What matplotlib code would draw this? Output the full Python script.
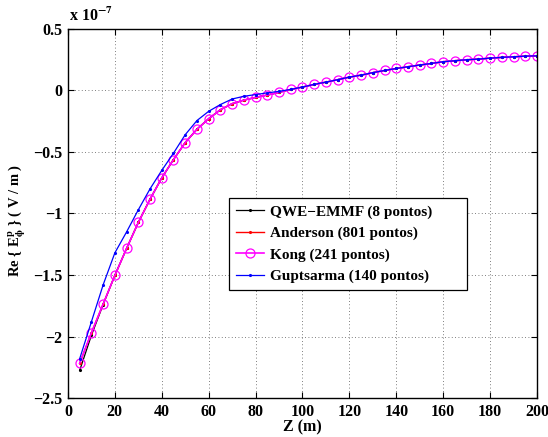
import matplotlib
matplotlib.use('Agg')
import matplotlib.pyplot as plt

plt.rcParams['font.family'] = ['Liberation Serif', 'DejaVu Serif']
plt.rcParams['font.weight'] = 'bold'
plt.rcParams['mathtext.fontset'] = 'stix'
plt.rcParams['axes.unicode_minus'] = True

# profundidade (m), campo em unidades de 1e-7 V/m
z = [5, 10, 15, 20, 25, 30, 35, 40, 45, 50, 55, 60, 65, 70, 75, 80, 85, 90, 95, 100,
     105, 110, 115, 120, 125, 130, 135, 140, 145, 150, 155, 160, 165, 170, 175, 180,
     185, 190, 195, 200]

kong = [-2.217, -1.970, -1.736, -1.503, -1.284, -1.073, -0.884, -0.711, -0.562, -0.424,
        -0.316, -0.230, -0.157, -0.108, -0.079, -0.057, -0.038, -0.016, 0.008, 0.027,
        0.049, 0.067, 0.087, 0.108, 0.124, 0.144, 0.162, 0.178, 0.192, 0.206,
        0.219, 0.233, 0.241, 0.249, 0.254, 0.262, 0.268, 0.273, 0.278, 0.281]

anderson = kong

qwe = [-2.275, -1.990, -1.740, -1.503, -1.284, -1.073, -0.884, -0.711, -0.562, -0.424,
       -0.316, -0.230, -0.157, -0.108, -0.079, -0.057, -0.038, -0.016, 0.008, 0.027,
       0.049, 0.067, 0.087, 0.108, 0.124, 0.144, 0.162, 0.178, 0.192, 0.206,
       0.219, 0.233, 0.241, 0.249, 0.254, 0.262, 0.268, 0.273, 0.278, 0.281]

gupt = [-2.180, -1.880, -1.580, -1.320, -1.150, -0.970, -0.800, -0.650, -0.510, -0.360,
        -0.245, -0.170, -0.115, -0.070, -0.048, -0.034, -0.020, -0.008, 0.008, 0.027,
        0.049, 0.067, 0.087, 0.108, 0.124, 0.144, 0.162, 0.178, 0.192, 0.206,
        0.219, 0.233, 0.241, 0.249, 0.254, 0.262, 0.268, 0.273, 0.278, 0.281]

labels = ['QWE\u2212EMMF (8 pontos)', 'Anderson (801 pontos)',
          'Kong (241 pontos)', 'Guptsarma (140 pontos)']

fig = plt.figure(figsize=(5.48, 4.37), dpi=100)
ax = fig.add_axes([0.124, 0.089, 0.856, 0.845])

ax.plot(z, qwe, color='k', lw=0.9, marker='.', ms=2.5, label=labels[0])
ax.plot(z, anderson, color='r', lw=1.0, marker='.', ms=2.5, label=labels[1])
ax.plot(z, kong, color='#ff00ff', lw=1.2, marker='o', ms=6.5, mfc='none', mew=0.9,
        label=labels[2])
ax.plot(z, gupt, color='b', lw=0.9, marker='.', ms=2.5, label=labels[3])

ax.set_xlim(0, 200)
ax.set_ylim(-2.5, 0.5)
ax.set_xticks(range(0, 201, 20))
ax.set_yticks([-2.5, -2, -1.5, -1, -0.5, 0, 0.5])
ax.set_yticklabels(['\u22122.5', '\u22122', '\u22121.5', '\u22121', '\u22120.5', '0', '0.5'])
ax.tick_params(direction='in', top=True, right=True, labelsize=11.5, length=4, width=0.8,
               pad=4)
for lab in ax.get_xticklabels() + ax.get_yticklabels():
    lab.set_fontweight('bold')
for s in ax.spines.values():
    s.set_linewidth(1.0)
ax.grid(True, linestyle=(0, (1, 3)), color='#555555', linewidth=0.6)

ax.set_xlabel('Z (m)', fontsize=11.5, fontweight='bold', labelpad=0)
ax.set_ylabel(r'Re { E$_{\mathbf{\phi}}^{\mathbf{p}}$ } ( V / m )', fontsize=10.5,
              fontweight='bold')
ax.yaxis.set_label_coords(-0.085, 0.48)

fig.text(0.126, 0.952, r'x 10$^{\mathbf{-7}}$', fontsize=11.5, fontweight='bold')

leg = ax.legend(loc='upper left', bbox_to_anchor=(0.343, 0.292, 0.507, 0.25),
                mode='expand', fancybox=False,
                edgecolor='k', framealpha=1, prop={'weight': 'bold', 'size': 11},
                handlelength=1.85, borderpad=0.45, labelspacing=0.5, handletextpad=0.4,
                borderaxespad=0)
leg.get_frame().set_linewidth(0.9)

fig.savefig('out.png', dpi=100)
